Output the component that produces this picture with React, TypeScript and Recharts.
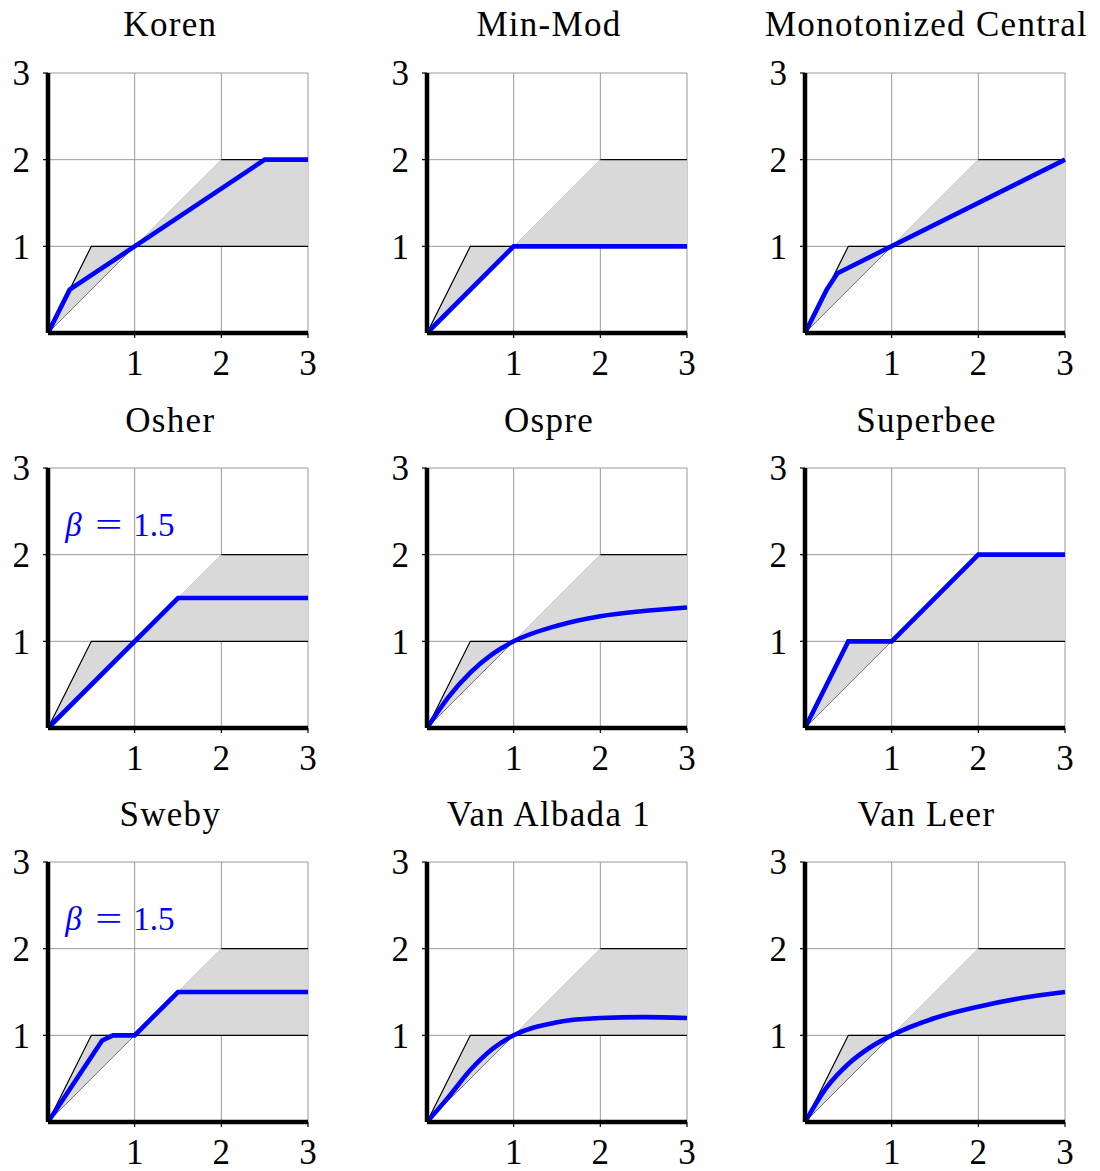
import React from "react"
import {
  ComposedChart,
  Area,
  Line,
  XAxis,
  YAxis,
  CartesianGrid,
  ReferenceLine,
  ReferenceDot,
} from "recharts"

// panel titles, row by row
const titles = [
  "Koren",
  "Min-Mod",
  "Monotonized Central",
  "Osher",
  "Ospre",
  "Superbee",
  "Sweby",
  "Van Albada 1",
  "Van Leer",
]

const ticks = [1, 2, 3]

// second-order TVD region
const bandR = [0, 0.5, 1, 2, 3]
const bandLow = [0, 0.5, 1, 1, 1]
const bandHigh = [0, 1, 1, 2, 2]

// outline of the region
const edgeR = [0, 0.5, 3]
const edgePhi = [0, 1, 1]
const topEdgeR = [2, 3]
const topEdgePhi = [2, 2]
const diagR = [0, 1]
const diagPhi = [0, 1]
const diag2R = [1, 2]
const diag2Phi = [1, 2]

// limiter curves
const korenR = [0, 0.25, 2.5, 3]
const korenPhi = [0, 0.5, 2, 2]
const minmodR = [0, 1, 3]
const minmodPhi = [0, 1, 1]
const mcR = [0, 0.25, 0.375, 3]
const mcPhi = [0, 0.5, 0.69, 2]
const osherR = [0, 1.5, 3]
const osherPhi = [0, 1.5, 1.5]
const ospreR = [0, 0.25, 0.5, 0.75, 1, 1.5, 2, 2.5, 3]
const osprePhi = [0, 0.36, 0.64, 0.85, 1, 1.18, 1.29, 1.35, 1.39]
const superbeeR = [0, 0.5, 1, 2, 3]
const superbeePhi = [0, 1, 1, 2, 2]
const swebyR = [0, 0.625, 0.75, 1, 1.5, 3]
const swebyPhi = [0, 0.94, 1, 1, 1.5, 1.5]
const albadaR = [0, 0.25, 0.5, 0.75, 1, 1.5, 2, 2.5, 3]
const albadaPhi = [0, 0.29, 0.6, 0.84, 1, 1.15, 1.2, 1.21, 1.2]
const leerR = [0, 0.25, 0.5, 0.75, 1, 1.5, 2, 2.5, 3]
const leerPhi = [0, 0.4, 0.67, 0.86, 1, 1.2, 1.33, 1.43, 1.5]

const curves = [
  { r: korenR, phi: korenPhi, smooth: false, beta: false },
  { r: minmodR, phi: minmodPhi, smooth: false, beta: false },
  { r: mcR, phi: mcPhi, smooth: false, beta: false },
  { r: osherR, phi: osherPhi, smooth: false, beta: true },
  { r: ospreR, phi: osprePhi, smooth: true, beta: false },
  { r: superbeeR, phi: superbeePhi, smooth: false, beta: false },
  { r: swebyR, phi: swebyPhi, smooth: false, beta: true },
  { r: albadaR, phi: albadaPhi, smooth: true, beta: false },
  { r: leerR, phi: leerPhi, smooth: true, beta: false },
]

const toPoints = (r: number[], phi: number[]) => r.map((x, i) => ({ r: x, phi: phi[i] }))

const bandData = bandR.map((x, i) => ({ r: x, band: [bandLow[i], bandHigh[i]] }))

const FONT = "Liberation Serif, Times New Roman, Times, serif"
const BLUE = "#0000ff"

const colLeft = [0.3, 379, 756.5]
const rowTop = [-0.3, 395.3, 789.3]

function BetaLabel(props: any) {
  const { viewBox } = props
  const x0 = viewBox.x
  const y0 = viewBox.y
  return (
    <text y={y0} fill={BLUE} fontSize={33} fontFamily={FONT}>
      <tspan x={x0} fontStyle="italic">β</tspan>
      <tspan x={x0 + 30} textLength={27} lengthAdjust="spacingAndGlyphs">=</tspan>
      <tspan x={x0 + 68}>1.5</tspan>
    </text>
  )
}

function Panel({ idx }: { idx: number }) {
  const c = curves[idx]
  const left = colLeft[idx % 3]
  const top = rowTop[Math.floor(idx / 3)]
  return (
    <div style={{ position: "absolute", left, top, width: 332, height: 393 }}>
      <div
        style={{
          position: "absolute",
          left: -30,
          top: 7.7,
          width: 400,
          textAlign: "center",
          fontFamily: FONT,
          fontSize: 35,
          lineHeight: "35px",
          letterSpacing: 1.3,
          whiteSpace: "nowrap",
        }}
      >
        {titles[idx]}
      </div>
      <ComposedChart width={332} height={393} margin={{ top: 73, right: 24, left: 0, bottom: 0 }}>
        <CartesianGrid stroke="#999" strokeWidth={1} />
        <XAxis
          type="number"
          dataKey="r"
          domain={[0, 3]}
          ticks={ticks}
          height={60}
          tickSize={5}
          tickMargin={12}
          axisLine={{ stroke: "#000", strokeWidth: 4.5 }}
          tickLine={{ stroke: "#000", strokeWidth: 1.2 }}
          tick={{ fontSize: 35, fill: "#000", fontFamily: FONT }}
        />
        <YAxis
          type="number"
          domain={[0, 3]}
          ticks={ticks}
          width={48}
          tickSize={5}
          tickMargin={13}
          axisLine={{ stroke: "#000", strokeWidth: 4.5 }}
          tickLine={{ stroke: "#000", strokeWidth: 1.2 }}
          tick={{ fontSize: 35, fill: "#000", fontFamily: FONT }}
        />
        <Area
          data={bandData}
          dataKey="band"
          type="linear"
          fill="#d9d9d9"
          fillOpacity={1}
          stroke="none"
          isAnimationActive={false}
        />
        <Line data={toPoints(diag2R, diag2Phi)} dataKey="phi" stroke="#bbb" strokeWidth={0.7} dot={false} isAnimationActive={false} />
        <Line data={toPoints(diagR, diagPhi)} dataKey="phi" stroke="#555" strokeWidth={0.8} dot={false} isAnimationActive={false} />
        <Line data={toPoints(edgeR, edgePhi)} dataKey="phi" stroke="#000" strokeWidth={1.2} dot={false} isAnimationActive={false} />
        <Line data={toPoints(topEdgeR, topEdgePhi)} dataKey="phi" stroke="#000" strokeWidth={1.2} dot={false} isAnimationActive={false} />
        <ReferenceLine x={0} stroke="#888" strokeWidth={1.2} />
        <ReferenceLine y={0} stroke="#888" strokeWidth={1.2} />
        <Line
          data={toPoints(c.r, c.phi)}
          dataKey="phi"
          type={c.smooth ? "monotone" : "linear"}
          stroke={BLUE}
          strokeWidth={4.6}
          dot={false}
          isAnimationActive={false}
        />
        {c.beta && (
          <ReferenceDot x={0.21} y={2.2} r={1} fill="none" stroke="none" label={<BetaLabel />} />
        )}
      </ComposedChart>
    </div>
  )
}

export default function App() {
  return (
    <div style={{ position: "absolute", left: 0, top: 0, width: 1100, height: 1171, background: "#fff" }}>
      {titles.map((t, i) => (
        <Panel key={t} idx={i} />
      ))}
    </div>
  )
}
